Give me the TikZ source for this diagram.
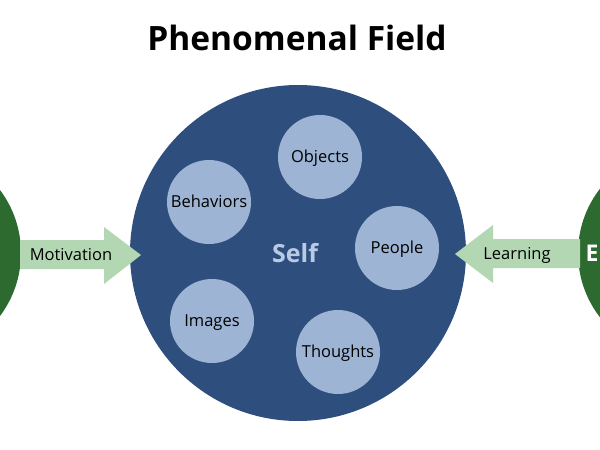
\documentclass[tikz,border=0pt]{standalone}
\usepackage{fontspec}
\setmainfont{Open Sans}
\usetikzlibrary{shapes.arrows}
\definecolor{bigblue}{HTML}{2E4F7E}
\definecolor{smallblue}{HTML}{9DB4D4}
\definecolor{darkgreen}{HTML}{2C6A2F}
\definecolor{lightgreen}{HTML}{B3D7B3}
\definecolor{selftext}{HTML}{B9CBE4}
\tikzset{
  item/.style={circle, fill=smallblue, minimum size=84pt, inner sep=0pt, font=\fontsize{16.5}{18}\selectfont, text=black, text height=12pt, text depth=2pt},
  arrowlabel/.style={font=\fontsize{16.5}{18}\selectfont, text=black},
}
\begin{document}
\begin{tikzpicture}[x=1pt,y=-1pt]
\useasboundingbox (0,0) rectangle (600,450);
\clip (0,0) rectangle (600,450);
\fill[white] (0,0) rectangle (600,450);
\node[font=\fontsize{33.5}{38}\selectfont\bfseries] (title) at (297,38) {Phenomenal Field};
% green circles
\node[circle, fill=darkgreen, minimum size=210pt, inner sep=0pt] (left) at (-84,253) {};
\node[circle, fill=darkgreen, minimum size=210pt, inner sep=0pt] (right) at (683,253) {};
\node[text=white, font=\fontsize{23}{26}\selectfont\bfseries, anchor=west] (rlabel) at (582,253) {E};
% big circle
\node[circle, fill=bigblue, minimum size=336pt, inner sep=0pt] (self) at (298,253) {};
\node[text=selftext, font=\fontsize{25}{28}\selectfont\bfseries] (selflabel) at (295,253) {Self};
\node[item] (objects) at (320,157) {Objects};
\node[item] (behaviors) at (209,202) {Behaviors};
\node[item] (people) at (397,248) {People};
\node[item] (images) at (212,321) {Images};
\node[item] (thoughts) at (338,352) {Thoughts};
% arrows
\fill[lightgreen] (20,240) -- (104,240) -- (104,227) -- (141,255) -- (104,284) -- (104,269) -- (20,269) -- cycle;
\fill[lightgreen] (580,239) -- (493,239) -- (493,225) -- (455,254) -- (493,283) -- (493,268) -- (580,268) -- cycle;
\node[arrowlabel] (mot) at (71,255) {Motivation};
\node[arrowlabel] (learn) at (517,255) {Learning};
\end{tikzpicture}
\end{document}
